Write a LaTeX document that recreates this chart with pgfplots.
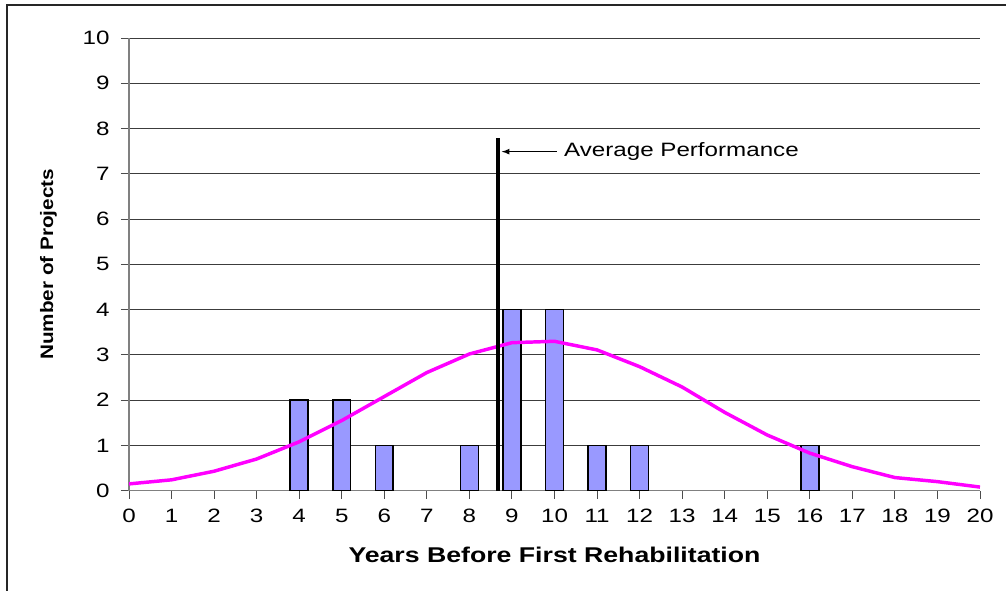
\documentclass[border=0pt]{standalone}
\usepackage{fontspec}
\setmainfont{Liberation Sans}
\newfontfamily\tickfont[FakeStretch=1.25]{Liberation Sans}
\newfontfamily\labfont[FakeStretch=1.25]{Liberation Sans}
\newfontfamily\plainfont{Liberation Sans}
\usepackage{graphicx}
\usepackage{pgfplots}
\pgfplotsset{compat=1.18}
\definecolor{barblue}{RGB}{153,153,255}
\definecolor{mag}{RGB}{255,0,255}
\definecolor{gridc}{RGB}{60,60,60}
\begin{document}
\begin{tikzpicture}
\useasboundingbox (-96.75pt,-75.225pt) rectangle (657.75pt,368.025pt);
\draw[line width=1.1pt, black!85] (-91.5pt,-90pt) -- (-91.5pt,364.3pt) -- (700pt,364.3pt);
\begin{axis}[
  at={(0,0)}, anchor=south west,
  scale only axis,
  width=638.25pt, height=339.5pt,
  xmin=0, xmax=20, ymin=0, ymax=10,
  xtick={0,...,20}, ytick={0,...,10},
  axis x line*=bottom, axis y line*=left,
  axis line style={gray, line width=0.8pt, -},
  tick align=outside,
  major tick length=6pt,
  tick style={gray!60!black, line width=0.7pt},
  ymajorgrids,
  grid style={gridc, line width=0.7pt},
  /pgf/number format/assume math mode=true,
  tick label style={font=\tickfont\fontsize{14.5pt}{17pt}\selectfont},
  xticklabel style={yshift=-4pt},
  yticklabel style={xshift=-5pt},
  xlabel={\labfont\bfseries Years Before First Rehabilitation},
  xlabel style={font=\fontsize{16pt}{18pt}\selectfont, at={(axis description cs:0.5,0)}, anchor=base, yshift=-54pt},
  ylabel={\scalebox{1.15}[1]{\plainfont\bfseries\fontsize{13.5pt}{16pt}\selectfont Number of Projects}},
  ylabel style={at={(axis description cs:-0.0893,0.5)}, anchor=base, rotate=0},
  clip=false,
]
\addplot[ybar, bar width=0.42, fill=barblue, draw=black, line width=1.2pt] coordinates {
 (4,2) (5,2) (6,1) (8,1) (9,4) (10,4) (11,1) (12,1) (16,1)
};
\addplot[mag, line width=2.6pt, sharp plot, mark=none] coordinates {
 (0,0.15) (1,0.24) (2,0.43) (3,0.70) (4,1.08) (5,1.55) (6,2.08) (7,2.61)
 (8,3.02) (9,3.27) (10,3.30) (11,3.11) (12,2.74) (13,2.29) (14,1.73)
 (15,1.23) (16,0.83) (17,0.53) (18,0.29) (19,0.20) (20,0.08)
};
\addplot[black, line width=3pt, mark=none] coordinates {(8.68,0) (8.68,7.8)};
\draw[-latex, line width=1pt] (axis cs:10.05,7.49) -- (axis cs:8.76,7.49);
\node[anchor=west, inner sep=0pt, font=\tickfont\fontsize{14.5pt}{17pt}\selectfont] at (axis cs:10.22,7.49) {Average Performance};
\end{axis}
\end{tikzpicture}
\end{document}
